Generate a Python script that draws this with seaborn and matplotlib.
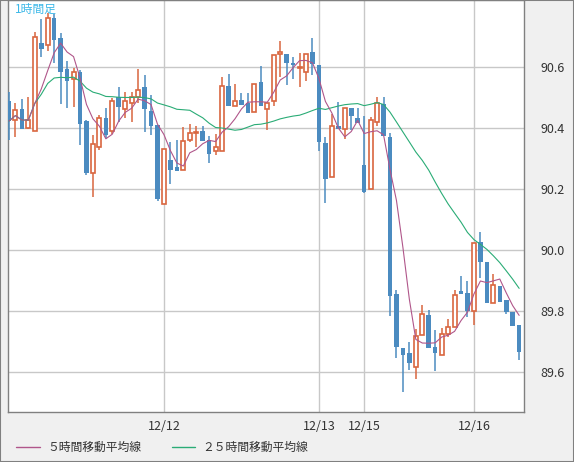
import numpy as np
import pandas as pd
import matplotlib
matplotlib.use('Agg')
import matplotlib.pyplot as plt
import seaborn as sns

# hourly OHLC
opens = [90.489, 90.427, 90.463, 90.400, 90.390, 90.679, 90.672, 90.761, 90.695, 90.594,
         90.561, 90.584, 90.423, 90.253, 90.338, 90.433, 90.390, 90.502, 90.463, 90.482,
         90.502, 90.535, 90.456, 90.410, 90.151, 90.295, 90.272, 90.263, 90.361, 90.384,
         90.390, 90.361, 90.325, 90.325, 90.538, 90.472, 90.492, 90.482, 90.453, 90.551,
         90.463, 90.489, 90.643, 90.643, 90.613, 90.597, 90.584, 90.649, 90.607, 90.351,
         90.240, 90.407, 90.397, 90.466, 90.433, 90.279, 90.200, 90.420, 90.479, 90.371,
         89.856, 89.679, 89.662, 89.617, 89.722, 89.787, 89.682, 89.656, 89.725, 89.748,
         89.866, 89.859, 89.800, 90.026, 89.961, 89.826, 89.882, 89.836, 89.797, 89.754]
highs = [90.518, 90.482, 90.495, 90.502, 90.715, 90.758, 90.777, 90.774, 90.712, 90.620,
         90.597, 90.590, 90.427, 90.377, 90.443, 90.466, 90.499, 90.535, 90.518, 90.518,
         90.594, 90.574, 90.508, 90.410, 90.331, 90.354, 90.361, 90.404, 90.413, 90.407,
         90.407, 90.374, 90.381, 90.568, 90.577, 90.545, 90.515, 90.515, 90.545, 90.604,
         90.482, 90.640, 90.686, 90.643, 90.633, 90.646, 90.643, 90.695, 90.607, 90.371,
         90.446, 90.486, 90.466, 90.466, 90.466, 90.440, 90.436, 90.502, 90.502, 90.384,
         89.869, 89.679, 89.699, 89.741, 89.820, 89.803, 89.738, 89.744, 89.774, 89.869,
         89.915, 89.899, 90.023, 90.059, 89.961, 89.922, 89.882, 89.836, 89.797, 89.754]
lows = [90.361, 90.371, 90.397, 90.397, 90.390, 90.633, 90.653, 90.613, 90.479, 90.466,
        90.469, 90.345, 90.246, 90.174, 90.328, 90.367, 90.381, 90.420, 90.433, 90.420,
        90.482, 90.387, 90.377, 90.161, 90.151, 90.217, 90.259, 90.263, 90.354, 90.338,
        90.358, 90.286, 90.312, 90.325, 90.472, 90.472, 90.476, 90.449, 90.453, 90.472,
        90.394, 90.472, 90.568, 90.541, 90.561, 90.535, 90.554, 90.574, 90.325, 90.154,
        90.240, 90.397, 90.364, 90.394, 90.417, 90.187, 90.200, 90.407, 90.374, 89.784,
        89.646, 89.535, 89.607, 89.577, 89.722, 89.679, 89.603, 89.656, 89.715, 89.748,
        89.856, 89.781, 89.754, 89.908, 89.826, 89.826, 89.830, 89.790, 89.751, 89.640]
closes = [90.423, 90.459, 90.397, 90.427, 90.699, 90.659, 90.761, 90.689, 90.584, 90.554,
          90.584, 90.413, 90.253, 90.348, 90.433, 90.377, 90.489, 90.469, 90.489, 90.502,
          90.525, 90.463, 90.407, 90.167, 90.331, 90.263, 90.259, 90.358, 90.384, 90.384,
          90.358, 90.315, 90.338, 90.538, 90.472, 90.489, 90.476, 90.449, 90.545, 90.472,
          90.482, 90.640, 90.649, 90.613, 90.607, 90.597, 90.643, 90.610, 90.354, 90.233,
          90.407, 90.397, 90.466, 90.440, 90.417, 90.190, 90.427, 90.482, 90.374, 89.849,
          89.682, 89.656, 89.630, 89.718, 89.790, 89.679, 89.662, 89.725, 89.748, 89.853,
          89.856, 89.800, 90.023, 89.961, 89.826, 89.885, 89.830, 89.797, 89.751, 89.666]

tick_pos = [24, 48, 55, 72]
tick_labels = ['12/12', '12/13', '12/15', '12/16']

df = pd.DataFrame({'open': opens, 'high': highs, 'low': lows, 'close': closes})
df['i'] = np.arange(len(df))
df['ma5'] = df['close'].rolling(5, min_periods=1).mean()
df['ma25'] = df['close'].rolling(25, min_periods=1).mean()

sns.set_style('white')
plt.rcParams['font.family'] = ['Noto Sans CJK JP', 'DejaVu Sans']

up_col = '#d9663f'
dn_col = '#4b8bc0'
ma5_col = '#b0568a'
ma25_col = '#2aac76'

fig = plt.figure(figsize=(5.74, 4.62), dpi=100, facecolor='#f0f0f0')
ax = fig.add_axes([8/574, 50/462, 516/574, 412/462])
ax.set_facecolor('white')

up = df[df['close'] >= df['open']]
dn = df[df['close'] < df['open']]
ax.vlines(up['i'], up['low'], up['high'], color=up_col, lw=1.1, zorder=3)
ax.vlines(dn['i'], dn['low'], dn['high'], color=dn_col, lw=1.1, zorder=3)
hgt = (up['close'] - up['open']).clip(lower=0.002)
ax.bar(up['i'], hgt, bottom=up['open'], width=0.62, facecolor='white',
       edgecolor=up_col, linewidth=1.2, zorder=4)
ax.bar(dn['i'], dn['open'] - dn['close'], bottom=dn['close'], width=0.7,
       color=dn_col, linewidth=0, zorder=4)

sns.lineplot(data=df, x='i', y='ma25', ax=ax, color=ma25_col, lw=0.8, zorder=5)
sns.lineplot(data=df, x='i', y='ma5', ax=ax, color=ma5_col, lw=0.8, zorder=5)

ax.set_xlim(-0.15, 79.75)
ax.set_ylim(89.469, 90.820)
ax.set_yticks([89.6, 89.8, 90.0, 90.2, 90.4, 90.6])
ax.set_yticklabels(['89.6', '89.8', '90.0', '90.2', '90.4', '90.6'])
ax.set_xticks(tick_pos)
ax.set_xticklabels(tick_labels)
ax.yaxis.tick_right()
ax.tick_params(axis='both', length=0, labelsize=9, colors='#333333')
ax.tick_params(axis='y', pad=12)
ax.tick_params(axis='x', pad=6)
ax.grid(True, color='#c8c8c8', lw=1)
ax.set_axisbelow(True)
ax.set_xlabel('')
ax.set_ylabel('')
for s in ax.spines.values():
    s.set_color('#808080')
    s.set_linewidth(1)

ax.text(0.014, 0.993, '1時間足', transform=ax.transAxes, ha='left', va='top',
        color='#3cb8e8', fontsize=8.5)

h1, = ax.plot([], [], color=ma5_col, lw=1)
h2, = ax.plot([], [], color=ma25_col, lw=1)
fig.legend([h1, h2], ['５時間移動平均線', '２５時間移動平均線'], loc='lower left',
           bbox_to_anchor=(0.01, -0.005), ncol=2, frameon=False, fontsize=8.5,
           handlelength=2, handletextpad=0.6, columnspacing=2.6, labelcolor='#333333')

fig.patches.append(plt.Rectangle((0, 0), 1, 1, transform=fig.transFigure, fill=False,
                                 edgecolor='#808080', lw=1.5))
fig.savefig('out.png', dpi=100, facecolor=fig.get_facecolor())
